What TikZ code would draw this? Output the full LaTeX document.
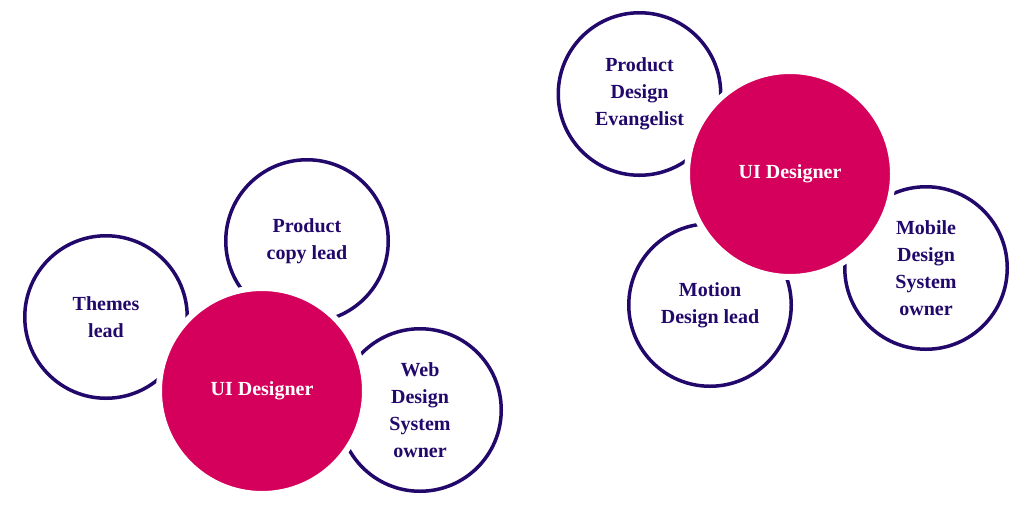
\documentclass[tikz,border=0pt]{standalone}
\usepackage{fontspec}
\setmainfont{Liberation Serif}
\definecolor{rolepink}{HTML}{D5005B}
\definecolor{roleink}{HTML}{22086B}
\begin{document}
\begin{tikzpicture}[x=1pt,y=-1pt,
  role/.style={circle, draw=roleink, line width=3.5pt, fill=white,
    minimum size=162.5pt, inner sep=0pt, align=center, text=roleink,
    font=\fontsize{20}{27}\selectfont\bfseries},
  hub/.style={circle, draw=white, line width=6pt, fill=rolepink,
    minimum size=206pt, inner sep=0pt, align=center, text=white,
    font=\fontsize{20}{27}\selectfont\bfseries}]
\useasboundingbox (0,0) rectangle (1024,512);
% left cluster
\node[role] (themes) at (106,317) {Themes\\lead};
\node[role] (copy) at (307,241) {Product\\copy lead};
\node[role] (web) at (420,410) {Web\\Design\\System\\owner};
\node[hub] (uiA) at (262,391) {UI Designer};
% right cluster
\node[role] (evang) at (639.5,94) {Product\\Design\\Evangelist};
\node[role] (motion) at (710,305) {Motion\\Design lead};
\node[role] (mobile) at (926,268) {Mobile\\Design\\System\\owner};
\node[hub] (uiB) at (790,174) {UI Designer};
\end{tikzpicture}
\end{document}
